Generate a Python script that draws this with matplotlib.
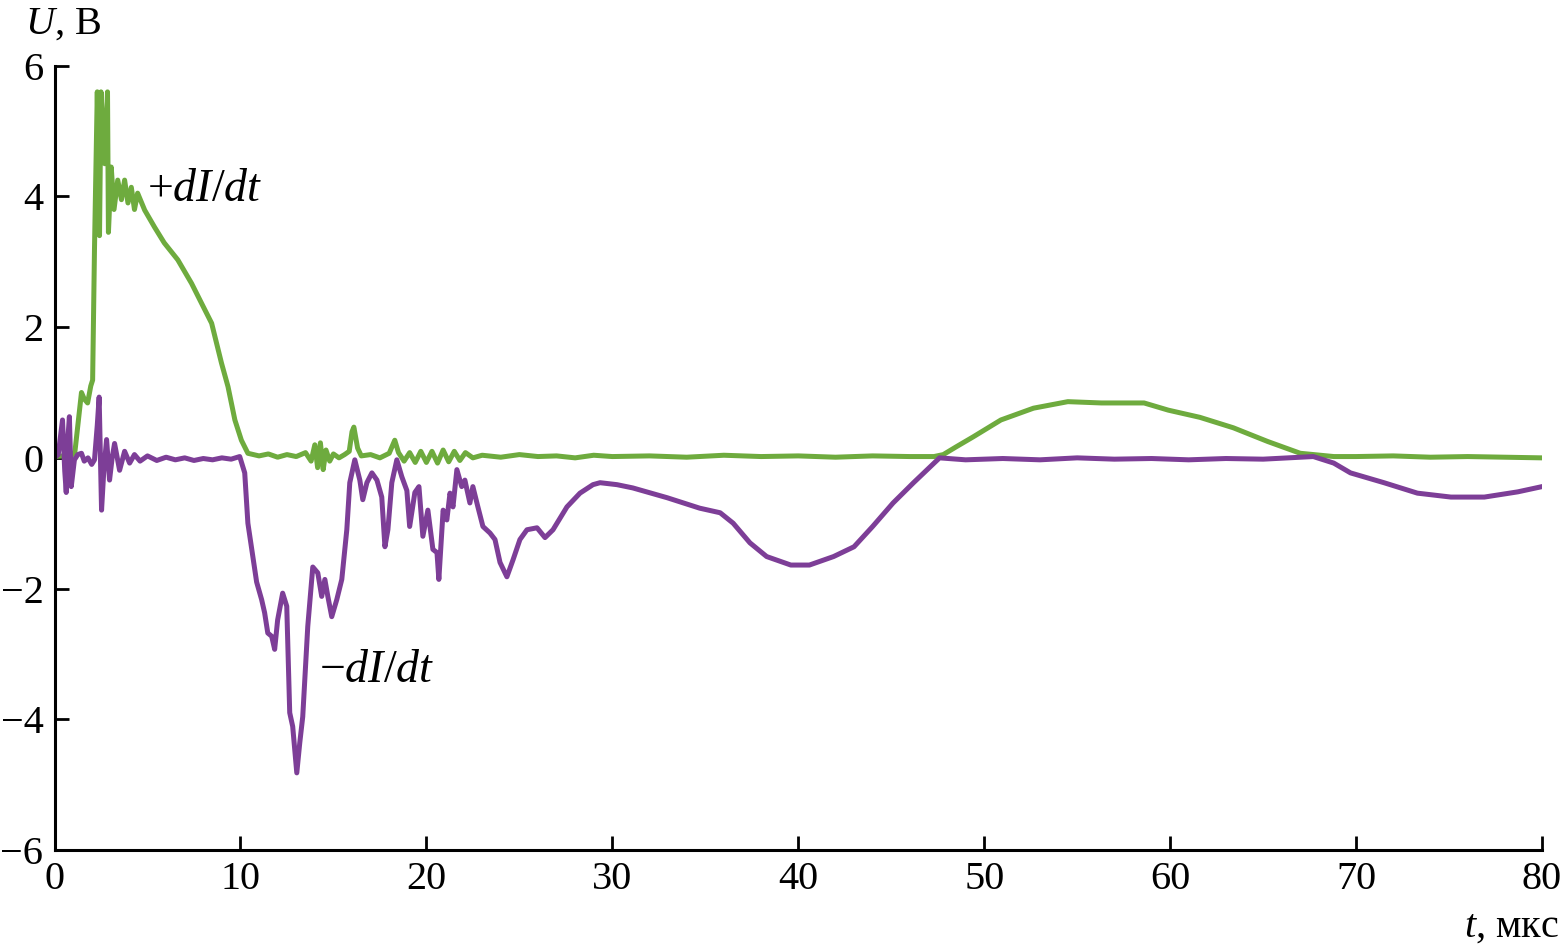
import matplotlib
matplotlib.use("Agg")
import matplotlib.pyplot as plt

# +dI/dt trace (t in us, U in V)
plus_t = [0, 0.5, 0.9, 1.1, 1.45, 1.6, 1.78, 1.95, 2.05, 2.15, 2.3, 2.42, 2.5, 2.7,
          2.85, 2.9, 3.05, 3.2, 3.4, 3.6, 3.77, 3.95, 4.13, 4.3, 4.47, 4.85, 5.38,
          5.9, 6.63, 7.37, 7.9, 8.45, 8.98, 9.33, 9.7, 10.05, 10.4, 11.0, 11.5, 12.0,
          12.5, 13.0, 13.5, 13.8, 14.0, 14.15, 14.3, 14.45, 14.6, 14.8, 15.0, 15.3,
          15.6, 15.85, 16.0, 16.1, 16.3, 16.5, 17.0, 17.5, 18.0, 18.3, 18.5, 18.8,
          19.1, 19.4, 19.7, 20.0, 20.3, 20.6, 20.9, 21.2, 21.5, 21.8, 22.1, 22.5,
          23, 24, 25, 26, 27, 28, 29, 30, 32, 34, 36, 38, 40, 42, 44, 46, 47.3,
          47.8, 48.5, 49.4, 50.9, 52.65, 54.5, 56.3, 58.6, 59.9, 61.6, 63.4, 65.25,
          67.0, 68.8, 70, 72, 74, 76, 78, 80]
plus_u = [0.02, 0.03, 0.03, 0.1, 1.0, 0.9, 0.84, 1.1, 1.19, 3.2, 5.6, 3.4, 5.6, 4.5,
          5.6, 3.45, 4.45, 3.8, 4.25, 3.95, 4.25, 3.9, 4.14, 3.8, 4.05, 3.79, 3.53,
          3.29, 3.03, 2.67, 2.37, 2.06, 1.45, 1.09, 0.58, 0.27, 0.07, 0.03, 0.06, 0.01,
          0.05, 0.02, 0.08, -0.05, 0.2, -0.15, 0.23, -0.18, 0.12, -0.05, 0.06, 0.0,
          0.05, 0.1, 0.4, 0.47, 0.15, 0.03, 0.05, 0.0, 0.07, 0.27, 0.08, -0.05,
          0.08, -0.07, 0.1, -0.07, 0.1, -0.08, 0.12, -0.06, 0.1, -0.04, 0.08, 0.0,
          0.04, 0.01, 0.05, 0.02, 0.03, 0.0, 0.04, 0.02, 0.03, 0.01, 0.04, 0.02, 0.03,
          0.01, 0.03, 0.02, 0.02, 0.05, 0.17, 0.32, 0.58, 0.76, 0.86, 0.84, 0.84,
          0.73, 0.62, 0.46, 0.25, 0.07, 0.02, 0.02, 0.03, 0.01, 0.02, 0.01, 0.0]

# -dI/dt trace
minus_t = [0, 0.2, 0.43, 0.55, 0.63, 0.72, 0.8, 0.9, 1.07, 1.25, 1.45, 1.6, 1.8, 2.0,
           2.15, 2.3, 2.4, 2.47, 2.53, 2.65, 2.8, 2.96, 3.1, 3.23, 3.5, 3.77, 4.04,
           4.3, 4.6, 5.0, 5.5, 6, 6.5, 7, 7.5, 8, 8.5, 9, 9.5, 9.96, 10.23, 10.4,
           10.66, 10.87, 11.14, 11.3, 11.47, 11.68, 11.84, 12.0, 12.27, 12.49, 12.65,
           12.81, 13.03, 13.19, 13.35, 13.62, 13.89, 14.16, 14.37, 14.54, 14.7, 14.91,
           15.18, 15.45, 15.72, 15.88, 16.15, 16.42, 16.58, 16.8, 17.07, 17.34, 17.6,
           17.77, 17.93, 18.14, 18.41, 18.68, 18.95, 19.1, 19.38, 19.6, 19.81, 20.08,
           20.35, 20.57, 20.67, 20.9, 21.1, 21.27, 21.43, 21.64, 21.9, 22.07, 22.34,
           22.5, 22.77, 23.04, 23.42, 23.69, 23.96, 24.33, 24.66, 25.03, 25.41, 25.95,
           26.38, 26.81, 27.56, 28.26, 28.96, 29.34, 30.25, 31.1, 32.95, 34.7, 35.8,
           36.5, 37.4, 38.3, 39.6, 40.6, 41.9, 43.0, 44.0, 45.1, 46.2, 47.3, 47.6, 49,
           51, 53, 55, 57, 59, 61, 63, 65, 67.7, 68.8, 69.7, 71.5, 73.3, 75.1, 76.9,
           78.7, 80.0]
minus_u = [0.0, 0.05, 0.58, -0.2, -0.53, 0.3, 0.63, -0.44, -0.03, 0.05, 0.07, -0.05,
           0.0, -0.1, -0.03, 0.5, 0.93, 0.0, -0.8, -0.2, 0.28, -0.34, 0.0, 0.22, -0.19,
           0.1, -0.08, 0.05, -0.05, 0.03, -0.04, 0.01, -0.03, 0.0, -0.04, -0.01, -0.03,
           0.0, -0.02, 0.02, -0.23, -1.0, -1.5, -1.9, -2.17, -2.37, -2.68, -2.73, -2.93,
           -2.48, -2.07, -2.27, -3.9, -4.11, -4.82, -4.36, -3.96, -2.58, -1.67, -1.76,
           -2.12, -1.86, -2.12, -2.43, -2.17, -1.86, -1.1, -0.38, -0.03, -0.34, -0.64,
           -0.38, -0.23, -0.34, -0.6, -1.36, -1.1, -0.38, -0.03, -0.29, -0.5, -1.05,
           -0.53, -0.44, -1.2, -0.8, -1.4, -1.45, -1.86, -0.8, -0.95, -0.54, -0.75,
           -0.18, -0.44, -0.34, -0.69, -0.44, -0.75, -1.05, -1.15, -1.25, -1.6, -1.82,
           -1.56, -1.25, -1.1, -1.07, -1.22, -1.1, -0.75, -0.54, -0.41, -0.38, -0.41,
           -0.46, -0.61, -0.77, -0.84, -1.0, -1.3, -1.51, -1.64, -1.64, -1.51, -1.36,
           -1.05, -0.69, -0.38, -0.08, 0.0, -0.03, -0.01, -0.03, 0.0, -0.02, -0.01,
           -0.03, -0.01, -0.02, 0.02, -0.08, -0.23, -0.38, -0.54, -0.6, -0.6, -0.52,
           -0.44]

x_ticks = [0, 10, 20, 30, 40, 50, 60, 70, 80]
y_ticks = [-6, -4, -2, 0, 2, 4, 6]

plt.rcParams['font.family'] = ['Liberation Serif', 'DejaVu Serif']
plt.rcParams['mathtext.fontset'] = 'custom'
plt.rcParams['mathtext.rm'] = 'Liberation Serif'
plt.rcParams['mathtext.it'] = 'Liberation Serif:italic'

fig = plt.figure(figsize=(15.62, 9.51), dpi=100)
ax = fig.add_axes([0.0349, 0.1062, 0.9523, 0.8247])

green = '#6eab3e'
purple = '#7d3e97'
ax.plot(plus_t, plus_u, color=green, lw=3.6)
ax.plot(minus_t, minus_u, color=purple, lw=3.6)

ax.set_xlim(0, 80)
ax.set_ylim(-6, 6)
ax.set_xticks(x_ticks)
ax.set_yticks(y_ticks)
ax.tick_params(direction='in', length=10, width=2, labelsize=29, pad=8)
for s in ('top', 'right'):
    ax.spines[s].set_visible(False)
for s in ('left', 'bottom'):
    ax.spines[s].set_linewidth(2.2)

ax.text(5.0, 4.1, '+$dI/dt$', fontsize=33, va='center', ha='left')
ax.text(14.2, -3.25, '\u2212$dI/dt$', fontsize=33, va='center', ha='left')

fig.text(0.016, 0.975, '$U$, В', fontsize=29, va='center', ha='left')
fig.text(0.998, 0.025, '$t$, мкс', fontsize=29, va='center', ha='right')

fig.savefig('out.png', dpi=100)
